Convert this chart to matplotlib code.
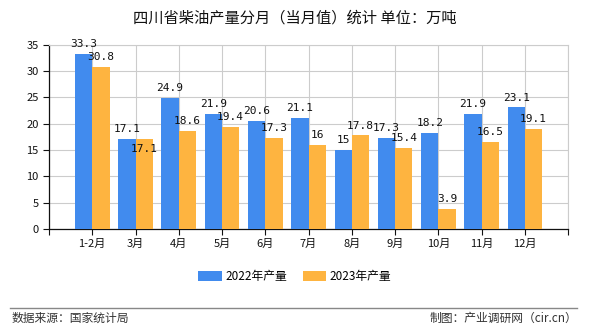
import matplotlib
matplotlib.use("Agg")
import matplotlib.pyplot as plt
import numpy as np

plt.rcParams["font.family"] = ["Noto Sans CJK SC", "DejaVu Sans"]

months = ["1-2月", "3月", "4月", "5月", "6月", "7月", "8月", "9月", "10月", "11月", "12月"]
prod_2022 = [33.3, 17.1, 24.9, 21.9, 20.6, 21.1, 15, 17.3, 18.2, 21.9, 23.1]
prod_2023 = [30.8, 17.1, 18.6, 19.4, 17.3, 16, 17.8, 15.4, 3.9, 16.5, 19.1]

blue = "#418BEE"
orange = "#FEB440"


def fmt(v):
    return f"{v:g}"


fig = plt.figure(figsize=(5.9, 3.3), dpi=100)
ax = fig.add_axes([0.083, 0.306, 0.880, 0.558])

x = np.arange(len(months))
w = 0.4
b1 = ax.bar(x - w / 2, prod_2022, w, color=blue, label="2022年产量", zorder=3)
b2 = ax.bar(x + w / 2, prod_2023, w, color=orange, label="2023年产量", zorder=3)

for i, (rect, v) in enumerate(zip(b1, prod_2022)):
    ax.annotate(fmt(v), (rect.get_x() + rect.get_width() / 2, v),
                xytext=(0, 3.5), textcoords="offset points",
                ha="center", va="bottom", fontsize=8,
                family=["DejaVu Sans Mono"], color="#111111", zorder=4)
for i, (rect, v) in enumerate(zip(b2, prod_2023)):
    # label pushed down when it would collide with the neighbour's label
    dy = -11 if abs(v - prod_2022[i]) < 1.5 else 3.5
    ax.annotate(fmt(v), (rect.get_x() + rect.get_width() / 2, v),
                xytext=(0, dy), textcoords="offset points",
                ha="center", va="bottom", fontsize=8,
                family=["DejaVu Sans Mono"], color="#111111", zorder=4)

ax.set_xlim(-1, 11)
ax.set_ylim(0, 35)
ax.set_yticks(range(0, 36, 5))
ax.set_xticks(range(-1, 12))
ax.set_xticklabels([""] + months + [""])
ax.tick_params(axis="both", direction="out", length=4, width=0.8,
               labelsize=8, colors="#111111")
ax.tick_params(axis="x", pad=3)
ax.grid(True, color="#cccccc", linewidth=0.8, zorder=0)
for s in ("top", "right"):
    ax.spines[s].set_color("#cccccc")
for s in ("left", "bottom"):
    ax.spines[s].set_color("#111111")
    ax.spines[s].set_linewidth(0.9)

fig.text(0.5, 0.945, "四川省柴油产量分月（当月值）统计 单位：万吨",
         ha="center", va="center", fontsize=11, color="#111111")

fig.legend(handles=[b1, b2], loc="center", bbox_to_anchor=(0.5, 0.163),
           ncol=2, frameon=False, fontsize=8.5, handlelength=2.0,
           handleheight=0.9, columnspacing=1.3, handletextpad=0.3)

fig.add_artist(plt.Line2D([0.017, 0.978], [0.067, 0.067], color="#888888",
                          linewidth=1, transform=fig.transFigure))
fig.text(0.02, 0.035, "数据来源：国家统计局", ha="left", va="center",
         fontsize=8.5, color="#333333")
fig.text(0.978, 0.035, "制图：产业调研网（cir.cn）", ha="right", va="center",
         fontsize=8.5, color="#333333")

fig.savefig("out.png", dpi=100)
